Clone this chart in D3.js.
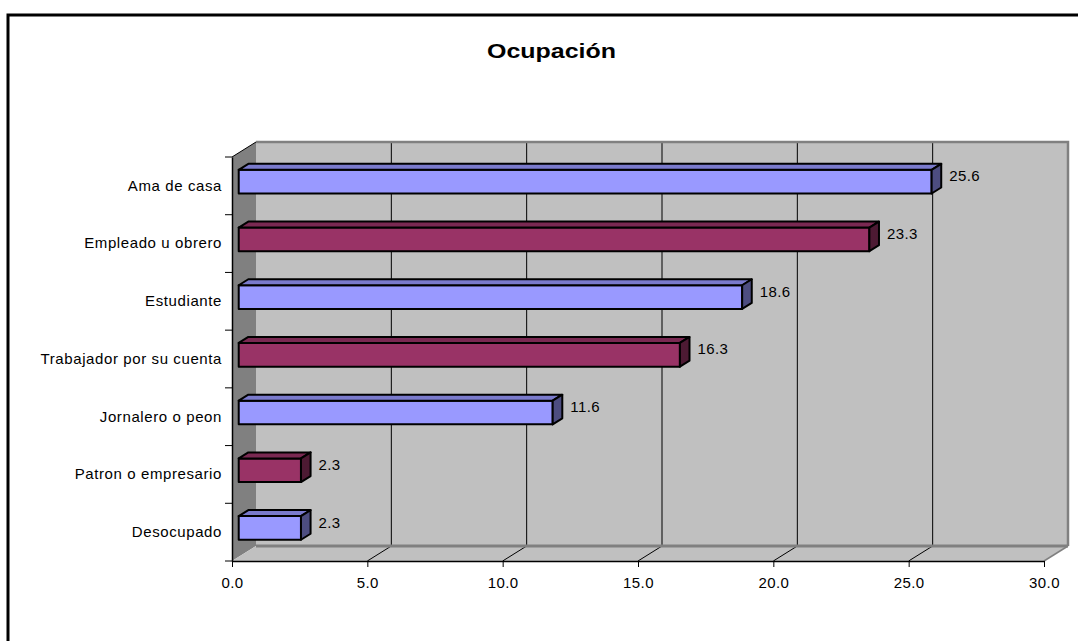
<!DOCTYPE html>
<html>
<head>
<meta charset="utf-8">
<script src="https://cdn.jsdelivr.net/npm/d3@7"></script>
<style>
  body { margin: 0; background: #fff; }
  text { font-family: "Liberation Sans", Arial, sans-serif; }
</style>
</head>
<body>
<script>
// data
var categories = ["Ama de casa", "Empleado u obrero", "Estudiante", "Trabajador por su cuenta",
                  "Jornalero o peon", "Patron o empresario", "Desocupado"];
var values = [25.6, 23.3, 18.6, 16.3, 11.6, 2.3, 2.3];
var xTicks = [0, 5, 10, 15, 20, 25, 30];

var w = 1078, h = 641;

var svg = d3.select("body").append("svg")
  .attr("width", w)
  .attr("height", h);

// outer frame (runs off the right and bottom edge)
svg.append("rect")
  .attr("x", 8).attr("y", 15)
  .attr("width", 1090).attr("height", 660)
  .attr("fill", "none").attr("stroke", "#000").attr("stroke-width", 3);

svg.append("text")
  .attr("x", 487).attr("y", 58)
  .attr("font-size", 21).attr("font-weight", "bold")
  .attr("textLength", 129).attr("lengthAdjust", "spacingAndGlyphs")
  .text("Ocupación");

// 3d depth offset
var ox = 24, oy = -15;

var x = d3.scaleLinear().domain([0, 30]).range([232, 1044]);
var y = d3.scaleBand().domain(categories).range([157, 561]);

var yTop = y.range()[0], yBot = y.range()[1];
var x0 = x(0), x1 = x(30);

// back wall
svg.append("rect")
  .attr("x", x0 + ox).attr("y", yTop + oy)
  .attr("width", x1 - x0).attr("height", yBot - yTop)
  .attr("fill", "#c0c0c0");

// left side wall
svg.append("polygon")
  .attr("points", [[x0, yTop], [x0 + ox, yTop + oy], [x0 + ox, yBot + oy], [x0, yBot]].join(" "))
  .attr("fill", "#808080");

// floor
svg.append("polygon")
  .attr("points", [[x0, yBot], [x1, yBot], [x1 + ox, yBot + oy], [x0 + ox, yBot + oy]].join(" "))
  .attr("fill", "#c0c0c0");

// gridlines on the wall and floor
var grid = xTicks.slice(1, -1);
svg.selectAll(".wallgrid")
  .data(grid).enter().append("line")
  .attr("x1", function(d) { return x(d) + ox; })
  .attr("x2", function(d) { return x(d) + ox; })
  .attr("y1", yTop + oy).attr("y2", yBot + oy)
  .attr("stroke", "#000").attr("stroke-width", 1);

svg.selectAll(".floorgrid")
  .data(grid).enter().append("line")
  .attr("x1", function(d) { return x(d); })
  .attr("y1", yBot)
  .attr("x2", function(d) { return x(d) + ox; })
  .attr("y2", yBot + oy)
  .attr("stroke", "#000").attr("stroke-width", 1);

// wall edges
svg.append("path")
  .attr("d", "M" + (x0 + ox) + "," + (yTop + oy) + "H" + (x1 + ox) + "V" + (yBot + oy))
  .attr("fill", "none").attr("stroke", "#808080").attr("stroke-width", 2.5);
svg.append("line")
  .attr("x1", x0 + ox).attr("x2", x1 + ox)
  .attr("y1", yBot + oy).attr("y2", yBot + oy)
  .attr("stroke", "#808080").attr("stroke-width", 3);
svg.append("line")
  .attr("x1", x1).attr("y1", yBot)
  .attr("x2", x1 + ox).attr("y2", yBot + oy)
  .attr("stroke", "#808080").attr("stroke-width", 1.5);
svg.append("line")
  .attr("x1", x0).attr("y1", yTop)
  .attr("x2", x0 + ox).attr("y2", yTop + oy)
  .attr("stroke", "#000").attr("stroke-width", 1);

// bars
var f0 = 0.28, f1 = 0.68;
var bh = y.bandwidth() * 0.41;
var fills = [["#9999ff", "#7a7acc", "#4d4d80"], ["#993366", "#7a2952", "#4d1a33"]];

var bars = svg.selectAll(".bar")
  .data(values).enter().append("g");

function geo(d, i) {
  var c = y(categories[i]) + y.bandwidth() / 2 + f0 * oy;
  return {
    l: x(0) + f0 * ox, r: x(d) + f0 * ox,
    t: c - bh / 2, b: c + bh / 2,
    dx: (f1 - f0) * ox, dy: (f1 - f0) * oy
  };
}

bars.append("rect")
  .attr("x", function(d, i) { return geo(d, i).l; })
  .attr("y", function(d, i) { return geo(d, i).t; })
  .attr("width", function(d, i) { var g = geo(d, i); return g.r - g.l; })
  .attr("height", bh)
  .attr("fill", function(d, i) { return fills[i % 2][0]; });

bars.append("polygon")
  .attr("points", function(d, i) {
    var g = geo(d, i);
    return [[g.l, g.t], [g.r, g.t], [g.r + g.dx, g.t + g.dy], [g.l + g.dx, g.t + g.dy]].join(" ");
  })
  .attr("fill", function(d, i) { return fills[i % 2][1]; });

bars.append("polygon")
  .attr("points", function(d, i) {
    var g = geo(d, i);
    return [[g.r, g.t], [g.r + g.dx, g.t + g.dy], [g.r + g.dx, g.b + g.dy], [g.r, g.b]].join(" ");
  })
  .attr("fill", function(d, i) { return fills[i % 2][2]; });

bars.selectAll("rect, polygon")
  .attr("stroke", "#000").attr("stroke-width", 2).attr("stroke-linejoin", "round");

// value labels
svg.selectAll(".val")
  .data(values).enter().append("text")
  .attr("x", function(d, i) { var g = geo(d, i); return g.r + g.dx + 8; })
  .attr("y", function(d, i) { return y(categories[i]) + y.bandwidth() / 2 - 10; })
  .attr("dy", "0.36em")
  .attr("font-size", 15).attr("letter-spacing", 0.4)
  .attr("fill", "#000")
  .text(function(d) { return d.toFixed(1); });

// x axis
var xAxis = svg.append("g")
  .attr("transform", "translate(0," + yBot + ")")
  .call(d3.axisBottom(x).tickValues(xTicks).tickFormat(d3.format(".1f")).tickSize(6).tickSizeOuter(0));
xAxis.select(".domain").attr("stroke", "#000").attr("stroke-width", 1.5);
xAxis.selectAll(".tick line").attr("stroke", "#000");
xAxis.selectAll(".tick text")
  .attr("font-family", "Liberation Sans, Arial, sans-serif")
  .attr("font-size", 15).attr("letter-spacing", 0.4)
  .attr("fill", "#000").attr("dy", "1.2em");

// y axis: labels at band centres, ticks at band edges
var yAxis = svg.append("g")
  .attr("transform", "translate(" + x0 + ",0)")
  .call(d3.axisLeft(y).tickSize(0).tickPadding(10).tickSizeOuter(0));
yAxis.select(".domain").attr("stroke", "#000").attr("stroke-width", 1.5);
yAxis.selectAll(".tick text")
  .attr("font-family", "Liberation Sans, Arial, sans-serif")
  .attr("font-size", 15).attr("letter-spacing", 0.6)
  .attr("fill", "#000");

var edges = categories.map(function(c) { return y(c); }).concat([yBot]);
svg.selectAll(".ytick")
  .data(edges).enter().append("line")
  .attr("x1", x0 - 7).attr("x2", x0)
  .attr("y1", function(d) { return d; })
  .attr("y2", function(d) { return d; })
  .attr("stroke", "#000").attr("stroke-width", 1);
</script>
</body>
</html>
